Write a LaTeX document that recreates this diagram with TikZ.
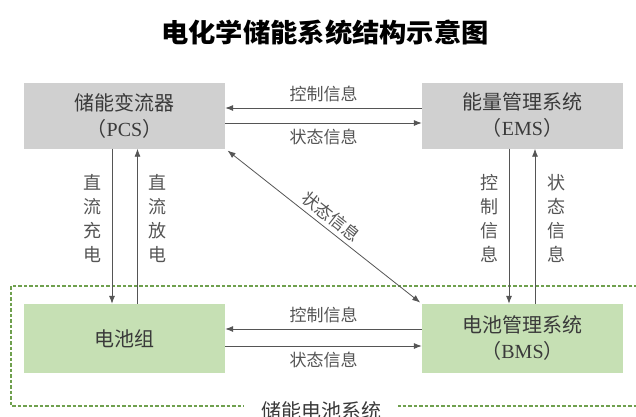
\documentclass[tikz,border=0pt]{standalone}
\usepackage{fontspec}
\setmainfont{Liberation Serif}
\newfontfamily\cjk{Noto Sans CJK SC}
\usetikzlibrary{arrows.meta}
\definecolor{boxgray}{HTML}{D0D0D0}
\definecolor{boxgreen}{HTML}{C6E0B4}
\definecolor{dashgreen}{HTML}{6FA04E}
\definecolor{txt}{HTML}{3A3A3A}
\definecolor{lbl}{HTML}{555555}
\definecolor{linec}{HTML}{555555}
\begin{document}
\begin{tikzpicture}[x=1pt,y=1pt,
  box/.style={minimum width=201pt,inner sep=0pt,align=center,text=txt,font=\fontsize{20}{26}\selectfont\cjk},
  graybox/.style={box,fill=boxgray,minimum height=66pt},
  greenbox/.style={box,fill=boxgreen,minimum height=69pt},
  arr/.style={draw=linec,line width=0.8pt,-{Latex[length=8pt,width=6pt]}},
  lab/.style={text=lbl,font=\fontsize{17}{17}\selectfont\cjk,inner sep=1pt},
  vlab/.style={text=lbl,font=\fontsize{18}{24}\selectfont\cjk,align=center,inner sep=0pt}]
\useasboundingbox (0,0) rectangle (636,-416);
\clip (0,0) rectangle (636,-416);
\fill[white] (0,0) rectangle (636,-416);
% title
\node[font=\fontsize{26}{26}\selectfont\cjk\bfseries,text=black,xscale=1.05] (title) at (325,-33) {电化学储能系统结构示意图};
% dashed system frame
\draw[dashgreen,line width=1.2pt,dash pattern=on 3.5pt off 2pt] (11,-286) rectangle (680,-406);
\node[fill=white,inner xsep=17pt,inner ysep=2pt,text=txt,font=\fontsize{20}{20}\selectfont\cjk] (sys) at (321,-411) {储能电池系统};
% boxes
\node[graybox] (pcs) at (124.5,-115.5) {储能变流器\\{\cjk （}{\rmfamily PCS}{\cjk ）}};
\node[graybox] (ems) at (522.5,-115.5) {能量管理系统\\{\cjk （}{\rmfamily EMS}{\cjk ）}};
\node[greenbox] (bat) at (124.5,-338.5) {电池组};
\node[greenbox] (bms) at (522.5,-338.5) {电池管理系统\\{\cjk （}{\rmfamily BMS}{\cjk ）}};
% top horizontal arrows
\draw[arr] ([yshift=7.5pt]ems.west) -- node[lab,above=5pt] (l1) {控制信息} ([yshift=7.5pt]pcs.east);
\draw[arr] ([yshift=-7.5pt]pcs.east) -- node[lab,below=5pt] (l2) {状态信息} ([yshift=-7.5pt]ems.west);
% bottom horizontal arrows
\draw[arr] ([yshift=9.5pt]bms.west) -- node[lab,above=5pt] (l3) {控制信息} ([yshift=9.5pt]bat.east);
\draw[arr] ([yshift=-7.5pt]bat.east) -- node[lab,below=5pt] (l4) {状态信息} ([yshift=-7.5pt]bms.west);
% left verticals
\draw[arr] ([xshift=-12.5pt]pcs.south) -- ([xshift=-12.5pt]bat.north);
\draw[arr] ([xshift=13pt]bat.north) -- ([xshift=13pt]pcs.south);
\node[vlab] (v1) at (92,-218) {直\\流\\充\\电};
\node[vlab] (v2) at (157,-218) {直\\流\\放\\电};
% right verticals
\draw[arr] ([xshift=-13.5pt]ems.south) -- ([xshift=-13.5pt]bms.north);
\draw[arr] ([xshift=12.5pt]bms.north) -- ([xshift=12.5pt]ems.south);
\node[vlab] (v3) at (489,-218) {控\\制\\信\\息};
\node[vlab] (v4) at (556,-218) {状\\态\\信\\息};
% diagonal
\draw[draw=linec,line width=0.8pt,{Latex[length=8pt,width=6pt]}-{Latex[length=8pt,width=6pt]},shorten <=3pt,shorten >=2pt] (pcs.south east) -- node[lab,sloped,above=3pt,pos=0.5] (l5) {状态信息} (bms.north west);
\end{tikzpicture}
\end{document}
